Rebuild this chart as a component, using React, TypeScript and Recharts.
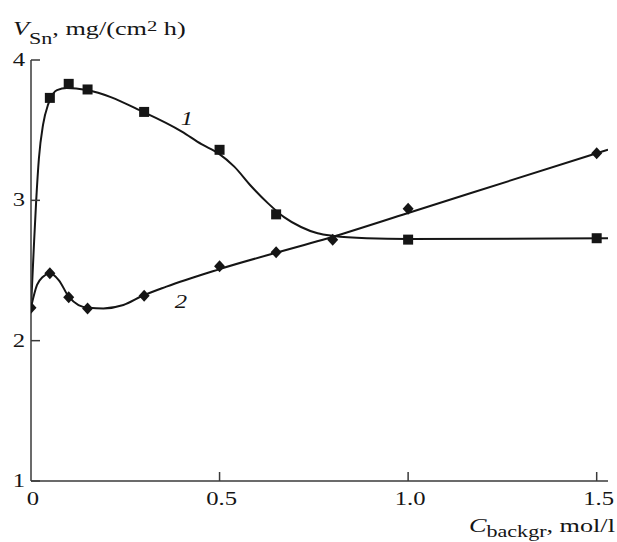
import { ComposedChart, Line, Scatter, XAxis, YAxis } from 'recharts';

const INK = '#151515';
const AXIS_COLOR = '#3a3a3a';
const FONT = '"Liberation Serif", "Times New Roman", serif';
const STRETCH = 1.3; // the printed font is wider than Times
const TITLE_STRETCH = 1.38;

const CHART_W = 617;
const CHART_H = 542;
const PLOT_LEFT = 31;
const PLOT_BOTTOM = 481;

// measured points, curve 1 (squares) and curve 2 (diamonds)
const concentrations1 = [0.05, 0.1, 0.15, 0.3, 0.5, 0.65, 1.0, 1.5];
const rates1 = [3.73, 3.83, 3.79, 3.63, 3.36, 2.9, 2.72, 2.73];
const concentrations2 = [0, 0.05, 0.1, 0.15, 0.3, 0.5, 0.65, 0.8, 1.0, 1.5];
const rates2 = [2.235, 2.48, 2.31, 2.23, 2.32, 2.53, 2.63, 2.72, 2.94, 3.335];

// fitted curves
const fit1X = [0, 0.0074, 0.0138, 0.021, 0.032, 0.045, 0.05, 0.069, 0.095, 0.148, 0.3, 0.4, 0.452, 0.497, 0.539, 0.584, 0.628, 0.671, 0.716, 0.76, 0.803, 0.89, 1.0, 1.53];
const fit1Y = [2.235, 2.66, 3.0, 3.3, 3.54, 3.68, 3.715, 3.785, 3.8, 3.786, 3.627, 3.49, 3.4, 3.335, 3.24, 3.1, 2.98, 2.88, 2.81, 2.765, 2.746, 2.73, 2.725, 2.73];
const fit2X = [0, 0.016, 0.032, 0.05, 0.074, 0.1, 0.126, 0.153, 0.192, 0.245, 0.296, 0.359, 0.5, 0.8, 1.0, 1.5, 1.53];
const fit2Y = [2.238, 2.397, 2.456, 2.48, 2.43, 2.313, 2.254, 2.235, 2.23, 2.254, 2.32, 2.385, 2.51, 2.74, 2.91, 3.335, 3.36];

const xTicks = [0, 0.5, 1.0, 1.5];
const xTickLabels = ['0', '0.5', '1.0', '1.5'];
const yTicks = [1, 2, 3, 4];

const zip = (xs: number[], ys: number[]) => xs.map((x, i) => ({ x, y: ys[i] }));

const points1 = zip(concentrations1, rates1);
const points2 = zip(concentrations2, rates2);
const fit1 = zip(fit1X, fit1Y);
const fit2 = zip(fit2X, fit2Y);

type TickProps = { x?: number; y?: number; payload?: { value: number } };
type ShapeProps = { cx?: number; cy?: number };

const StretchedText = ({ x, y, anchor, children, italic }: { x: number; y: number; anchor?: 'start' | 'middle' | 'end'; children: React.ReactNode; italic?: boolean }) => (
  <text
    transform={`translate(${x},${y}) scale(${STRETCH},1)`}
    textAnchor={anchor ?? 'start'}
    fontFamily={FONT}
    fontSize={19}
    fontStyle={italic ? 'italic' : 'normal'}
    fill={INK}
  >
    {children}
  </text>
);

const renderXTick = ({ x = 0, payload }: TickProps) => {
  const value = payload?.value ?? 0;
  const idx = xTicks.indexOf(value);
  return (
    <g>
      {value !== 0 ? <line x1={x} x2={x} y1={PLOT_BOTTOM} y2={PLOT_BOTTOM - 9} stroke={AXIS_COLOR} strokeWidth={1.5} /> : null}
      <StretchedText x={x + 2} y={505} anchor="middle">
        {idx >= 0 ? xTickLabels[idx] : String(value)}
      </StretchedText>
    </g>
  );
};

const renderYTick = ({ y = 0, payload }: TickProps) => (
  <g>
    <line x1={PLOT_LEFT} x2={PLOT_LEFT + 9} y1={y} y2={y} stroke={AXIS_COLOR} strokeWidth={1.5} />
    <StretchedText x={25} y={y + 6} anchor="end">
      {String(payload?.value ?? '')}
    </StretchedText>
  </g>
);

const squareShape = ({ cx = 0, cy = 0 }: ShapeProps) => (
  <rect x={cx - 5} y={cy - 5} width={10} height={10} fill={INK} />
);

const diamondShape = ({ cx = 0, cy = 0 }: ShapeProps) => (
  <polygon points={`${cx},${cy - 6} ${cx + 5.5},${cy} ${cx},${cy + 6} ${cx - 5.5},${cy}`} fill={INK} />
);

export default function App() {
  return (
    <div style={{ position: 'absolute', left: 0, top: 0, width: CHART_W, height: CHART_H, background: '#fff' }}>
      <ComposedChart width={CHART_W} height={CHART_H} margin={{ top: 60, right: 9, bottom: 31, left: 0 }}>
        <XAxis
          type="number"
          dataKey="x"
          domain={[0, 1.53]}
          ticks={xTicks}
          height={30}
          axisLine={{ stroke: AXIS_COLOR, strokeWidth: 1.5 }}
          tickLine={false}
          tick={renderXTick}
          allowDataOverflow
        />
        <YAxis
          type="number"
          dataKey="y"
          domain={[1, 4]}
          ticks={yTicks}
          width={31}
          axisLine={{ stroke: AXIS_COLOR, strokeWidth: 1.5 }}
          tickLine={false}
          tick={renderYTick}
          allowDataOverflow
        />
        <Line data={fit1} dataKey="y" type="monotone" stroke={INK} strokeWidth={2} dot={false} activeDot={false} isAnimationActive={false} />
        <Line data={fit2} dataKey="y" type="monotone" stroke={INK} strokeWidth={2} dot={false} activeDot={false} isAnimationActive={false} />
        <Scatter data={points1} dataKey="y" shape={squareShape} isAnimationActive={false} />
        <Scatter data={points2} dataKey="y" shape={diamondShape} isAnimationActive={false} />
      </ComposedChart>
      <svg width={CHART_W} height={CHART_H} style={{ position: 'absolute', left: 0, top: 0, pointerEvents: 'none' }}>
        <text transform={`translate(13,35) scale(${TITLE_STRETCH},1)`} fontFamily={FONT} fontSize={19} fill={INK}>
          <tspan fontStyle="italic">V</tspan>
          <tspan fontSize={16} dy={9}>Sn</tspan>
          <tspan dy={-9}>, mg/(cm</tspan>
          <tspan fontSize={15} dy={-4}>2</tspan>
          <tspan dy={4}> h)</tspan>
        </text>
        <text transform={`translate(469,532) scale(${TITLE_STRETCH},1)`} fontFamily={FONT} fontSize={19} fill={INK}>
          <tspan fontStyle="italic">C</tspan>
          <tspan fontSize={16} dy={5}>backgr</tspan>
          <tspan dy={-5}>, mol/l</tspan>
        </text>
        <StretchedText x={187} y={125} anchor="middle" italic>1</StretchedText>
        <StretchedText x={181} y={308} anchor="middle" italic>2</StretchedText>
      </svg>
    </div>
  );
}
